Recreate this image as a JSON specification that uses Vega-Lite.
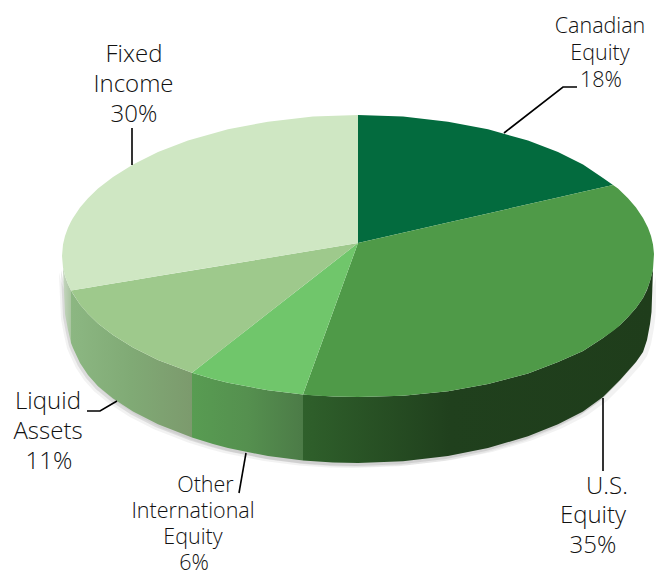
{
  "$schema": "https://vega.github.io/schema/vega-lite/v6.json",
  "width": 656,
  "height": 575,
  "padding": 0,
  "autosize": {"type": "none"},
  "background": "white",
  "config": {"view": {"stroke": null}},
  "datasets": {
    "faces": [
      {"slice": "Canadian Equity", "across": 0, "top": 141, "bottom": 13},
      {"slice": "Canadian Equity", "across": 45, "top": 139.4, "bottom": 23.3},
      {"slice": "Canadian Equity", "across": 90, "top": 134.3, "bottom": 33.5},
      {"slice": "Canadian Equity", "across": 130, "top": 126.7, "bottom": 42.6},
      {"slice": "Canadian Equity", "across": 170, "top": 115.4, "bottom": 51.7},
      {"slice": "Canadian Equity", "across": 200, "top": 103.9, "bottom": 58.5},
      {"slice": "Canadian Equity", "across": 225, "top": 91.6, "bottom": 64.2},
      {"slice": "Canadian Equity", "across": 245, "top": 78, "bottom": 68.7},
      {"slice": "Canadian Equity", "across": 255, "top": 71, "bottom": 71},

      {"slice": "U.S. Equity", "across": -55, "top": -138.5, "bottom": -138.5},
      {"slice": "U.S. Equity", "across": -45, "top": -111, "bottom": -139.4},
      {"slice": "U.S. Equity", "across": -25, "top": -55.9, "bottom": -140.5},
      {"slice": "U.S. Equity", "across": 0, "top": 13, "bottom": -141},
      {"slice": "U.S. Equity", "across": 45, "top": 23.3, "bottom": -139.8},
      {"slice": "U.S. Equity", "across": 90, "top": 33.5, "bottom": -135.3},
      {"slice": "U.S. Equity", "across": 130, "top": 42.6, "bottom": -128},
      {"slice": "U.S. Equity", "across": 170, "top": 51.7, "bottom": -117.5},
      {"slice": "U.S. Equity", "across": 200, "top": 58.5, "bottom": -106},
      {"slice": "U.S. Equity", "across": 225, "top": 64.2, "bottom": -95},
      {"slice": "U.S. Equity", "across": 245, "top": 68.7, "bottom": -82},
      {"slice": "U.S. Equity", "across": 255, "top": 71, "bottom": -75},
      {"slice": "U.S. Equity", "across": 260, "top": 67.4, "bottom": -71},
      {"slice": "U.S. Equity", "across": 270, "top": 57.8, "bottom": -61},
      {"slice": "U.S. Equity", "across": 278, "top": 48.4, "bottom": -52},
      {"slice": "U.S. Equity", "across": 285, "top": 38.1, "bottom": -42},
      {"slice": "U.S. Equity", "across": 290, "top": 28.2, "bottom": -31},
      {"slice": "U.S. Equity", "across": 293, "top": 20, "bottom": -22},
      {"slice": "U.S. Equity", "across": 295, "top": 11.6, "bottom": -13},
      {"slice": "U.S. Equity", "across": 296, "top": 2, "bottom": 2},

      {"slice": "Other International Equity", "across": -166, "top": -116.7, "bottom": -116.7},
      {"slice": "Other International Equity", "across": -145, "top": -100.3, "bottom": -122.9},
      {"slice": "Other International Equity", "across": -130, "top": -88.6, "bottom": -126.7},
      {"slice": "Other International Equity", "across": -90, "top": -57.3, "bottom": -134.3},
      {"slice": "Other International Equity", "across": -55, "top": -30, "bottom": -138.5},
      {"slice": "Other International Equity", "across": 0, "top": 13, "bottom": 13},

      {"slice": "Liquid Assets", "across": -287, "top": -34.5, "bottom": -34.5},
      {"slice": "Liquid Assets", "across": -278, "top": -33, "bottom": -48.4},
      {"slice": "Liquid Assets", "across": -270, "top": -31.7, "bottom": -57.8},
      {"slice": "Liquid Assets", "across": -260, "top": -30, "bottom": -67.4},
      {"slice": "Liquid Assets", "across": -245, "top": -27.5, "bottom": -79.1},
      {"slice": "Liquid Assets", "across": -225, "top": -24.2, "bottom": -91.6},
      {"slice": "Liquid Assets", "across": -200, "top": -20.1, "bottom": -103.9},
      {"slice": "Liquid Assets", "across": -166, "top": -14.5, "bottom": -116.7},
      {"slice": "Liquid Assets", "across": 0, "top": 13, "bottom": 13},

      {"slice": "Fixed Income", "across": -296, "top": 0, "bottom": 0},
      {"slice": "Fixed Income", "across": -295, "top": 11.6, "bottom": -11.6},
      {"slice": "Fixed Income", "across": -293, "top": 20, "bottom": -20},
      {"slice": "Fixed Income", "across": -290, "top": 28.2, "bottom": -28.2},
      {"slice": "Fixed Income", "across": -287, "top": 34.5, "bottom": -34.5},
      {"slice": "Fixed Income", "across": -285, "top": 38.1, "bottom": -34.2},
      {"slice": "Fixed Income", "across": -278, "top": 48.4, "bottom": -33},
      {"slice": "Fixed Income", "across": -270, "top": 57.8, "bottom": -31.7},
      {"slice": "Fixed Income", "across": -260, "top": 67.4, "bottom": -30},
      {"slice": "Fixed Income", "across": -245, "top": 79.1, "bottom": -27.5},
      {"slice": "Fixed Income", "across": -225, "top": 91.6, "bottom": -24.2},
      {"slice": "Fixed Income", "across": -200, "top": 103.9, "bottom": -20.1},
      {"slice": "Fixed Income", "across": -170, "top": 115.4, "bottom": -15.1},
      {"slice": "Fixed Income", "across": -130, "top": 126.7, "bottom": -8.5},
      {"slice": "Fixed Income", "across": -90, "top": 134.3, "bottom": -1.9},
      {"slice": "Fixed Income", "across": -45, "top": 139.4, "bottom": 5.6},
      {"slice": "Fixed Income", "across": 0, "top": 141, "bottom": 13}
    ],
    "walls": [
      {"slice": "Fixed Income", "across": -295, "top": -11.6, "bottom": -14},
      {"slice": "Fixed Income", "across": -293, "top": -20, "bottom": -58},
      {"slice": "Fixed Income", "across": -290, "top": -28.2, "bottom": -74},
      {"slice": "Fixed Income", "across": -287, "top": -34.5, "bottom": -87},

      {"slice": "Liquid Assets", "across": -287, "top": -34.5, "bottom": -87},
      {"slice": "Liquid Assets", "across": -285, "top": -38.1, "bottom": -92},
      {"slice": "Liquid Assets", "across": -278, "top": -48.4, "bottom": -107},
      {"slice": "Liquid Assets", "across": -270, "top": -57.8, "bottom": -119},
      {"slice": "Liquid Assets", "across": -260, "top": -67.4, "bottom": -130.3},
      {"slice": "Liquid Assets", "across": -245, "top": -79.1, "bottom": -142.5},
      {"slice": "Liquid Assets", "across": -225, "top": -91.6, "bottom": -155.5},
      {"slice": "Liquid Assets", "across": -200, "top": -103.9, "bottom": -168.3},
      {"slice": "Liquid Assets", "across": -166, "top": -116.7, "bottom": -181.5},

      {"slice": "Other International Equity", "across": -166, "top": -116.7, "bottom": -181.5},
      {"slice": "Other International Equity", "across": -145, "top": -122.9, "bottom": -188.1},
      {"slice": "Other International Equity", "across": -130, "top": -126.7, "bottom": -192.1},
      {"slice": "Other International Equity", "across": -90, "top": -134.3, "bottom": -200},
      {"slice": "Other International Equity", "across": -55, "top": -138.5, "bottom": -204.4},

      {"slice": "U.S. Equity", "across": -55, "top": -138.5, "bottom": -204.4},
      {"slice": "U.S. Equity", "across": -25, "top": -140.5, "bottom": -206.5},
      {"slice": "U.S. Equity", "across": 0, "top": -141, "bottom": -207},
      {"slice": "U.S. Equity", "across": 45, "top": -139.8, "bottom": -205.3},
      {"slice": "U.S. Equity", "across": 90, "top": -135.3, "bottom": -200},
      {"slice": "U.S. Equity", "across": 130, "top": -128, "bottom": -192.1},
      {"slice": "U.S. Equity", "across": 170, "top": -117.5, "bottom": -180.3},
      {"slice": "U.S. Equity", "across": 200, "top": -106, "bottom": -168.3},
      {"slice": "U.S. Equity", "across": 225, "top": -95, "bottom": -155.5},
      {"slice": "U.S. Equity", "across": 245, "top": -82, "bottom": -141},
      {"slice": "U.S. Equity", "across": 262, "top": -69, "bottom": -124},
      {"slice": "U.S. Equity", "across": 270, "top": -61, "bottom": -115},
      {"slice": "U.S. Equity", "across": 278, "top": -52, "bottom": -106},
      {"slice": "U.S. Equity", "across": 285, "top": -42, "bottom": -96},
      {"slice": "U.S. Equity", "across": 289, "top": -34, "bottom": -84},
      {"slice": "U.S. Equity", "across": 292, "top": -25, "bottom": -68},
      {"slice": "U.S. Equity", "across": 293.5, "top": -19, "bottom": -56},
      {"slice": "U.S. Equity", "across": 295, "top": -13, "bottom": -14}
    ],
    "leaders": [
      {"slice": "Fixed Income", "step": 1, "across": -226, "up": 128},
      {"slice": "Fixed Income", "step": 2, "across": -226, "up": 91},
      {"slice": "Canadian Equity", "step": 1, "across": 146, "up": 123},
      {"slice": "Canadian Equity", "step": 2, "across": 205, "up": 169},
      {"slice": "Canadian Equity", "step": 3, "across": 219, "up": 169},
      {"slice": "Liquid Assets", "step": 1, "across": -271, "up": -155},
      {"slice": "Liquid Assets", "step": 2, "across": -258, "up": -155},
      {"slice": "Liquid Assets", "step": 3, "across": -241, "up": -145},
      {"slice": "Other International Equity", "step": 1, "across": -119, "up": -237},
      {"slice": "Other International Equity", "step": 2, "across": -112, "up": -197},
      {"slice": "U.S. Equity", "step": 1, "across": 245, "up": -142},
      {"slice": "U.S. Equity", "step": 2, "across": 245, "up": -215}
    ],
    "smallLabels": [
      {"text": "Canadian", "across": 242, "up": 229},
      {"text": "Equity", "across": 242, "up": 202},
      {"text": "18%", "across": 243, "up": 175},
      {"text": "Other", "across": -152.5, "up": -230},
      {"text": "International", "across": -165, "up": -256},
      {"text": "Equity", "across": -165, "up": -282},
      {"text": "6%", "across": -164, "up": -308}
    ],
    "largeLabels": [
      {"text": "Fixed", "across": -224, "up": 201},
      {"text": "Income", "across": -224.5, "up": 171},
      {"text": "30%", "across": -224, "up": 141},
      {"text": "U.S.", "across": 249, "up": -231},
      {"text": "Equity", "across": 235, "up": -260},
      {"text": "35%", "across": 235, "up": -290},
      {"text": "Liquid", "across": -310, "up": -146},
      {"text": "Assets", "across": -310, "up": -176},
      {"text": "11%", "across": -309, "up": -206}
    ]
  },
  "encoding": {
    "x": {"field": "across", "type": "quantitative", "axis": null, "scale": {"domain": [-358, 298]}},
    "y": {"field": "top", "type": "quantitative", "axis": null, "stack": null, "scale": {"domain": [-319, 256]}},
    "y2": {"field": "bottom"}
  },
  "layer": [
    {
      "data": {"name": "walls"},
      "mark": {"type": "area", "color": "#555555", "opacity": 0.08, "xOffset": -4, "yOffset": 5, "y2Offset": 5},
      "encoding": {"detail": {"field": "slice"}}
    },
    {
      "data": {"name": "walls"},
      "mark": {"type": "area", "color": "#555555", "opacity": 0.14, "xOffset": -2, "yOffset": 3, "y2Offset": 3},
      "encoding": {"detail": {"field": "slice"}}
    },
    {
      "data": {"name": "walls"},
      "mark": {"type": "area", "color": "#555555", "opacity": 0.08, "xOffset": 4, "yOffset": 4, "y2Offset": 4},
      "encoding": {"detail": {"field": "slice"}}
    },
    {
      "data": {"name": "walls"},
      "transform": [{"filter": "datum.slice === 'U.S. Equity'"}],
      "mark": {"type": "area", "color": {"gradient": "linear", "x1": 0, "x2": 1, "y1": 0, "y2": 0, "stops": [
        {"offset": 0, "color": "#2f602b"},
        {"offset": 0.42, "color": "#20401d"},
        {"offset": 1, "color": "#1f3d1b"}
      ]}}
    },
    {
      "data": {"name": "walls"},
      "transform": [{"filter": "datum.slice === 'Other International Equity'"}],
      "mark": {"type": "area", "color": {"gradient": "linear", "x1": 0, "x2": 1, "y1": 0, "y2": 0, "stops": [
        {"offset": 0, "color": "#589c52"},
        {"offset": 0.5, "color": "#55904f"},
        {"offset": 1, "color": "#4c7b47"}
      ]}}
    },
    {
      "data": {"name": "walls"},
      "transform": [{"filter": "datum.slice === 'Liquid Assets'"}],
      "mark": {"type": "area", "color": {"gradient": "linear", "x1": 0, "x2": 1, "y1": 0, "y2": 0, "stops": [
        {"offset": 0, "color": "#8cb782"},
        {"offset": 0.5, "color": "#80aa75"},
        {"offset": 1, "color": "#7c9a6d"}
      ]}}
    },
    {
      "data": {"name": "walls"},
      "transform": [{"filter": "datum.slice === 'Fixed Income'"}],
      "mark": {"type": "area", "color": {"gradient": "linear", "x1": 0, "x2": 1, "y1": 0, "y2": 0, "stops": [
        {"offset": 0, "color": "#c6d6c0"},
        {"offset": 1, "color": "#a9c5a0"}
      ]}}
    },
    {
      "data": {"name": "faces"},
      "mark": {"type": "area"},
      "encoding": {
        "color": {
          "field": "slice",
          "type": "nominal",
          "legend": null,
          "scale": {
            "domain": ["Canadian Equity", "U.S. Equity", "Other International Equity", "Liquid Assets", "Fixed Income"],
            "range": ["#036b3e", "#4f9a48", "#70c66b", "#9ec98c", "#cfe7c3"]
          }
        }
      }
    },
    {
      "data": {"name": "leaders"},
      "mark": {"type": "line", "color": "#000000", "strokeWidth": 1.6},
      "encoding": {
        "y": {"field": "up", "type": "quantitative", "axis": null, "stack": null, "scale": {"domain": [-319, 256]}},
        "y2": null,
        "detail": {"field": "slice"},
        "order": {"field": "step", "type": "quantitative"}
      }
    },
    {
      "data": {"name": "smallLabels"},
      "mark": {"type": "text", "font": "Open Sans", "fontWeight": 300, "fontSize": 21.5, "color": "#111111", "align": "center", "baseline": "middle"},
      "encoding": {
        "y": {"field": "up", "type": "quantitative", "axis": null, "stack": null, "scale": {"domain": [-319, 256]}},
        "y2": null,
        "text": {"field": "text"}
      }
    },
    {
      "data": {"name": "largeLabels"},
      "mark": {"type": "text", "font": "Open Sans", "fontWeight": 300, "fontSize": 24, "color": "#111111", "align": "center", "baseline": "middle"},
      "encoding": {
        "y": {"field": "up", "type": "quantitative", "axis": null, "stack": null, "scale": {"domain": [-319, 256]}},
        "y2": null,
        "text": {"field": "text"}
      }
    }
  ]
}
